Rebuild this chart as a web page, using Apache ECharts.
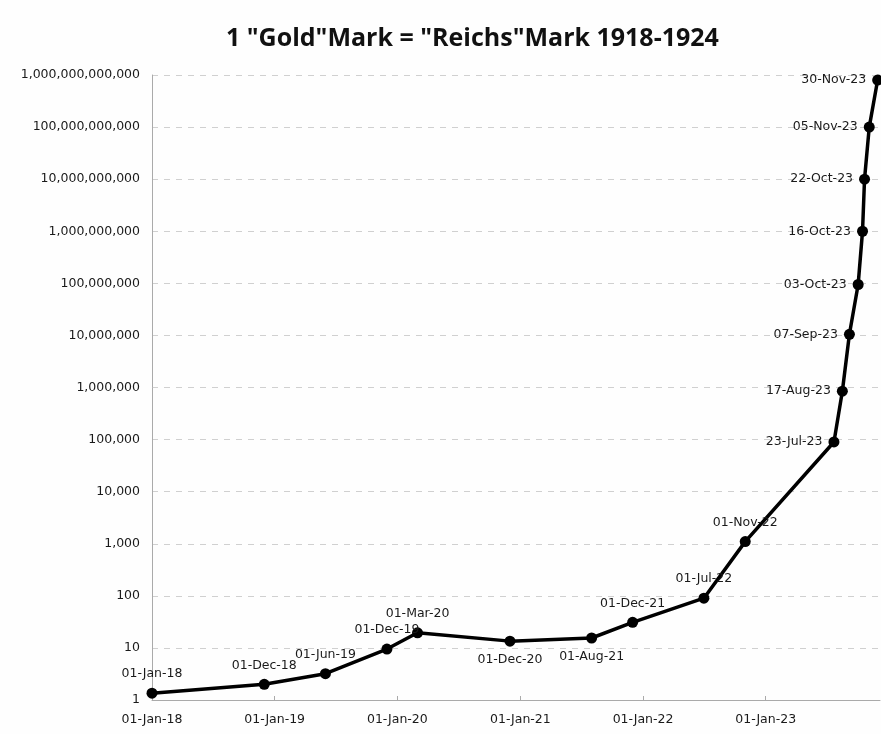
<!DOCTYPE html>
<html>
<head>
<meta charset="utf-8">
<script src="https://cdn.jsdelivr.net/npm/echarts@6/dist/echarts.min.js"></script>
<style>html,body{margin:0;padding:0;background:#fefefe;}#c{width:881px;height:734px;}</style>
</head>
<body>
<div id="c"></div>
<script>
// Data
const dates = ['2018-01-01','2018-12-01','2019-06-01','2019-12-01','2020-03-01','2020-12-01','2021-08-01','2021-12-01','2022-07-01','2022-11-01','2023-07-23','2023-08-17','2023-09-07','2023-10-03','2023-10-16','2023-10-22','2023-11-05','2023-11-30'];
const values = [1.35, 2, 3.2, 9.5, 19.5, 13.5, 15.5, 31, 90, 1100, 90000, 850000, 10500000, 95000000, 1000000000, 10000000000, 100000000000, 800000000000];
const yTicks = [1,10,100,1000,10000,100000,1e6,1e7,1e8,1e9,1e10,1e11,1e12];
const titleText = '1 "Gold"Mark = "Reichs"Mark 1918-1924';

// Label placement (style, kept apart from the data)
const labelPlacement = ['top','top','top','top','top','bottom','bottom','top','top','top','left','left','left','left','left','left','left','left'];

const MON = ['Jan','Feb','Mar','Apr','May','Jun','Jul','Aug','Sep','Oct','Nov','Dec'];
function fmtDate(s){
  const p = s.split('-');
  return p[2] + '-' + MON[parseInt(p[1],10)-1] + '-' + p[0].slice(2);
}

const seriesData = dates.map((d,i)=>({
  value:[d, values[i]],
  label:{position: labelPlacement[i], distance: labelPlacement[i]==='left' ? 6 : 7}
}));

const chart = echarts.init(document.getElementById('c'));
chart.setOption({
  backgroundColor:'#fefefe',
  animation:false,
  title:{
    text:titleText, left:221, top:21,
    textStyle:{fontFamily:'Open Sans', fontWeight:'bold', fontSize:25, color:'#111'}
  },
  grid:{left:152, right:1, top:75, bottom:34, containLabel:false},
  xAxis:{
    type:'time',
    min:'2018-01-01', max:'2023-12-07',
    minInterval:365*86400000, maxInterval:366*86400000,
    axisLine:{lineStyle:{color:'#aaa', width:1}},
    axisTick:{show:true, length:4, inside:true, lineStyle:{color:'#aaa'}},
    splitLine:{show:false},
    axisLabel:{
      showMaxLabel:false, margin:13,
      fontFamily:'DejaVu Sans', fontSize:12.5, color:'#1a1a1a',
      formatter:function(v){
        const d = new Date(v);
        const s = d.getFullYear()+'-'+String(d.getMonth()+1).padStart(2,'0')+'-'+String(d.getDate()).padStart(2,'0');
        return fmtDate(s);
      }
    }
  },
  yAxis:{
    type:'log', logBase:10, min:1, max:1e12, interval:1,
    axisLine:{show:true, lineStyle:{color:'#aaa', width:1}},
    axisTick:{show:false},
    splitLine:{show:true, lineStyle:{color:'#d0d0d0', type:[6,6], width:1}},
    axisLabel:{
      margin:12, fontFamily:'DejaVu Sans', fontSize:12.5, color:'#1a1a1a',
      formatter:function(v){ return Math.round(v).toLocaleString('en-US'); }
    }
  },
  series:[{
    type:'line',
    data:seriesData,
    symbol:'circle', symbolSize:11,
    lineStyle:{color:'#000', width:3.5},
    itemStyle:{color:'#000'},
    label:{
      show:true, fontFamily:'DejaVu Sans', fontSize:12.5, color:'#1a1a1a',
      formatter:function(p){ return fmtDate(dates[p.dataIndex]); }
    },
    z:5
  }]
});
</script>
</body>
</html>
